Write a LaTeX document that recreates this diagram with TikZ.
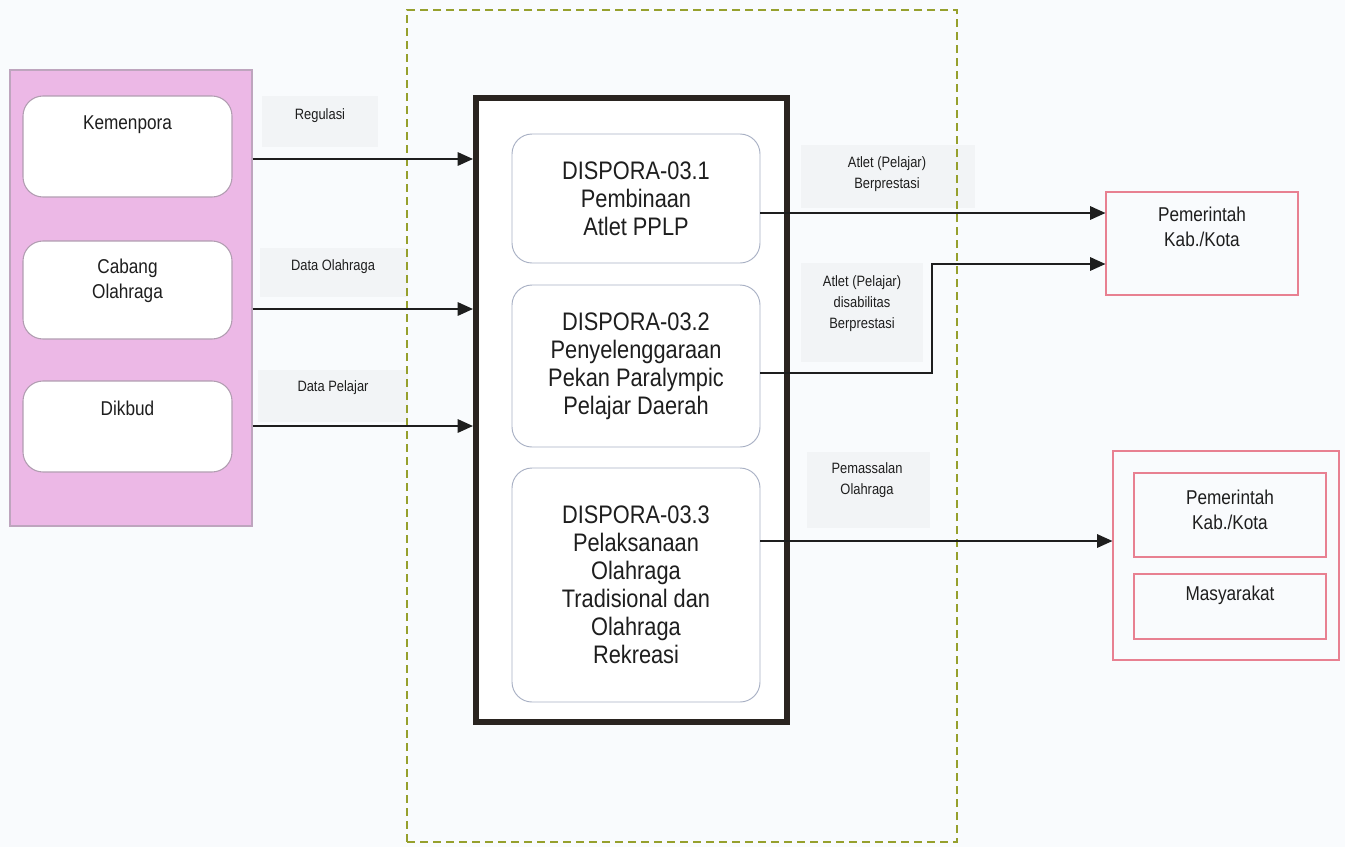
\documentclass[tikz,border=0pt]{standalone}
\usepackage{fontspec}
\setmainfont{Liberation Sans}[FakeStretch=0.86]
\usetikzlibrary{arrows.meta}
\definecolor{bgc}{RGB}{249,251,253}
\definecolor{pinkfill}{RGB}{236,184,230}
\definecolor{pinkdraw}{RGB}{190,165,190}
\definecolor{olivec}{RGB}{150,160,45}
\definecolor{mainline}{RGB}{42,36,32}
\definecolor{subline}{RGB}{168,176,196}
\definecolor{redline}{RGB}{232,128,145}
\definecolor{lblfill}{RGB}{242,244,246}
\definecolor{txt}{RGB}{30,30,30}
\begin{document}
\begin{tikzpicture}[x=0.75pt,y=-0.75pt,
  every node/.style={text=txt},
  srcbox/.style={draw=pinkdraw!80!gray,fill=white,rounded corners=15pt,line width=0.8pt,minimum width=156.75pt,inner sep=0pt},
  srctext/.style={font=\fontsize{15}{18.75}\selectfont,align=center},
  lbl/.style={font=\fontsize{11.25}{15.75}\selectfont,align=center},
  subbox/.style={draw=subline,fill=white,rounded corners=15pt,line width=0.7pt,minimum width=186pt,inner sep=0pt,
    font=\fontsize{19}{21}\selectfont,align=center},
  redbox/.style={draw=redline,line width=0.8pt,inner sep=0pt},
  tgttext/.style={font=\fontsize{15}{18.75}\selectfont,align=center},
  arr/.style={draw=txt,line width=1.5pt,-{Triangle[length=11.5pt,width=10pt]}}
]
\fill[bgc] (0,0) rectangle (1345,847);
\useasboundingbox (0,0) rectangle (1345,847);

% shaded label backgrounds
\fill[lblfill] (262,96) rectangle (378,147);
\fill[lblfill] (260,248) rectangle (408,297);
\fill[lblfill] (258,370) rectangle (408,422);
\fill[lblfill] (801,145) rectangle (975,208);
\fill[lblfill] (801,263) rectangle (923,362);
\fill[lblfill] (807,452) rectangle (930,528);

% dashed scope
\node[draw=olivec,line width=1.1pt,dash pattern=on 6pt off 3.75pt,minimum width=412.5pt,minimum height=624pt,inner sep=0pt] (scope) at (682,426) {};

% left source group
\node[draw=pinkdraw,fill=pinkfill,line width=0.8pt,minimum width=181.5pt,minimum height=342pt,inner sep=0pt] (src) at (131,298) {};
\node[srcbox,minimum height=75.75pt] (kem) at (127.5,146.5) {};
\node[srcbox,minimum height=73.5pt] (cab) at (127.5,290) {};
\node[srcbox,minimum height=68.25pt] (dik) at (127.5,426.5) {};
\node[srctext] (kemT) at (127.5,125) {Kemenpora};
\node[srctext] (cabT) at (127.5,281) {Cabang\\Olahraga};
\node[srctext] (dikT) at (127.5,408) {Dikbud};

% main process box
\node[draw=mainline,line width=4.5pt,fill=white,minimum width=233.25pt,minimum height=468pt,inner sep=0pt] (main) at (631.5,410) {};
\node[subbox,minimum height=96.75pt] (s1) at (636,198.5) {DISPORA-03.1\\Pembinaan\\Atlet PPLP};
\node[subbox,minimum height=121.5pt] (s2) at (636,366) {DISPORA-03.2\\Penyelenggaraan\\Pekan Paralympic\\Pelajar Daerah};
\node[subbox,minimum height=175.5pt] (s3) at (636,585) {DISPORA-03.3\\Pelaksanaan\\Olahraga\\Tradisional dan\\Olahraga\\Rekreasi};

% targets
\node[redbox,minimum width=144pt,minimum height=77.25pt] (pem1) at (1202,243.5) {};
\node[tgttext] (pem1T) at (1202,227) {Pemerintah\\Kab./Kota};
\node[redbox,minimum width=169.5pt,minimum height=156.75pt] (grp) at (1226,555.5) {};
\node[redbox,minimum width=144pt,minimum height=63pt] (pem2) at (1230,515) {};
\node[tgttext] (pem2T) at (1230,510) {Pemerintah\\Kab./Kota};
\node[redbox,minimum width=144pt,minimum height=48.75pt] (mas) at (1230,606.5) {};
\node[tgttext] (masT) at (1230,595) {Masyarakat};

% labels
\node[lbl] (lReg) at (320,116) {Regulasi};
\node[lbl] (lDO) at (333,267) {Data Olahraga};
\node[lbl] (lDP) at (333,388) {Data Pelajar};
\node[lbl] (lA1) at (887,174) {Atlet (Pelajar)\\Berprestasi};
\node[lbl] (lA2) at (862,304) {Atlet (Pelajar)\\disabilitas\\Berprestasi};
\node[lbl] (lPm) at (867,480) {Pemassalan\\Olahraga};

% connector coordinates
\coordinate (ya) at (0,159);
\coordinate (yb) at (0,309);
\coordinate (yc) at (0,426);
\coordinate (y1) at (0,213);
\coordinate (y2s) at (0,373);
\coordinate (b2) at (932,264);
\coordinate (y3) at (0,541);

% input arrows
\draw[arr] (src.east |- ya) -- (main.west |- ya);
\draw[arr] (src.east |- yb) -- (main.west |- yb);
\draw[arr] (src.east |- yc) -- (main.west |- yc);

% output arrows
\draw[arr] (s1.east |- y1) -- (pem1.west |- y1);
\draw[arr] (s2.east |- y2s) -| (b2) -- (pem1.west |- b2);
\draw[arr] (s3.east |- y3) -- (grp.west |- y3);
\end{tikzpicture}
\end{document}
